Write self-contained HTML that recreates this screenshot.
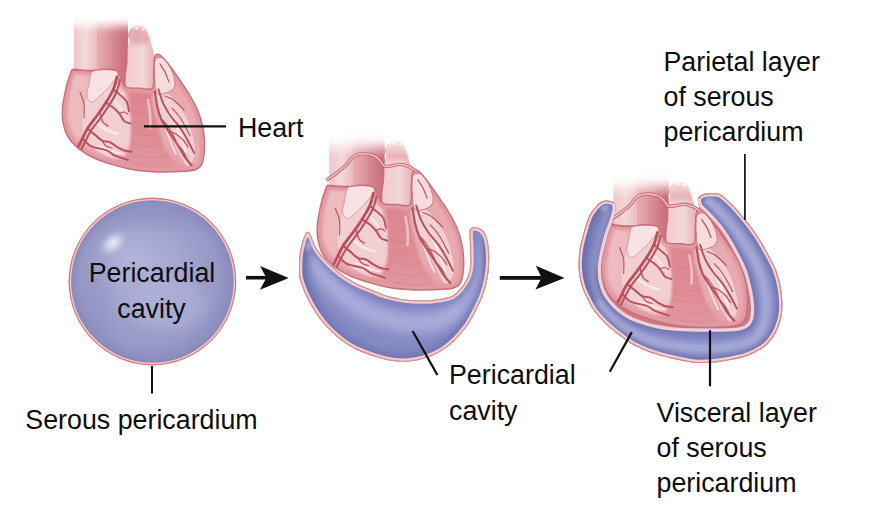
<!DOCTYPE html>
<html><head><meta charset="utf-8">
<style>
html,body{margin:0;padding:0;background:#fff;}
body{width:872px;height:510px;overflow:hidden;}
svg{display:block;}
text{font-family:"Liberation Sans",sans-serif;font-size:26.8px;fill:#0e0e0e;}
</style></head><body>
<svg width="872" height="510" viewBox="0 0 872 510">
<defs>
  <linearGradient id="fadeMaskG" x1="0" y1="12" x2="0" y2="40" gradientUnits="userSpaceOnUse">
    <stop offset="0" stop-color="#000"/>
    <stop offset="0.3" stop-color="#333"/>
    <stop offset="0.6" stop-color="#aaa"/>
    <stop offset="1" stop-color="#fff"/>
  </linearGradient>
  <filter id="mblur" x="-50%" y="-50%" width="200%" height="200%"><feGaussianBlur stdDeviation="5"/></filter>
  <mask id="fadeMask" maskUnits="userSpaceOnUse" x="0" y="-50" width="300" height="300">
    <rect x="40" y="26" width="200" height="200" fill="#fff" filter="url(#mblur)"/>
  </mask>
  <linearGradient id="aortaG" x1="97" y1="0" x2="128" y2="0" gradientUnits="userSpaceOnUse">
    <stop offset="0" stop-color="#e7abb1"/>
    <stop offset="0.3" stop-color="#df9aa2"/>
    <stop offset="0.7" stop-color="#d07b87"/>
    <stop offset="1" stop-color="#c86c79"/>
  </linearGradient>
  <linearGradient id="svcG" x1="74" y1="0" x2="98" y2="0" gradientUnits="userSpaceOnUse">
    <stop offset="0" stop-color="#efc7ca"/>
    <stop offset="0.5" stop-color="#f4d8d9"/>
    <stop offset="1" stop-color="#e9b8bd"/>
  </linearGradient>
  <linearGradient id="ptG" x1="127" y1="0" x2="153" y2="0" gradientUnits="userSpaceOnUse">
    <stop offset="0" stop-color="#f1ccce"/>
    <stop offset="0.6" stop-color="#f4d7d8"/>
    <stop offset="1" stop-color="#e9b6ba"/>
  </linearGradient>
  <linearGradient id="bandG" x1="0" y1="88" x2="0" y2="172" gradientUnits="userSpaceOnUse">
    <stop offset="0" stop-color="#dd8690"/>
    <stop offset="0.6" stop-color="#df8c95"/>
    <stop offset="1" stop-color="#e1959d"/>
  </linearGradient>
  
  <clipPath id="bodyClip"><path d="M72.5,69.5 C74.5,68.7 78.6,70.0 82.0,70.2 C85.4,70.4 89.3,70.7 93.0,70.5 C96.7,70.3 100.2,69.2 104.0,69.2 C107.8,69.2 113.2,69.0 116.0,70.5 C118.8,72.0 119.3,75.2 121.0,78.0 C122.7,80.8 122.8,85.3 126.0,87.0 C129.2,88.7 135.6,88.0 140.0,88.2 C144.4,88.4 150.2,91.0 152.5,88.0 C154.8,85.0 153.4,75.3 153.8,70.0 C154.2,64.7 154.0,58.5 155.0,56.0 C156.0,53.5 157.8,53.8 160.0,55.0 C162.2,56.2 165.2,60.0 168.0,63.5 C170.8,67.0 173.4,70.8 177.0,76.0 C180.6,81.2 186.1,89.2 189.6,95.0 C193.1,100.8 195.8,105.5 198.0,111.0 C200.2,116.5 201.9,122.8 203.0,128.0 C204.1,133.2 204.3,137.5 204.5,142.0 C204.7,146.5 204.5,151.2 204.0,155.0 C203.5,158.8 202.8,162.6 201.5,165.0 C200.2,167.4 198.8,168.4 196.0,169.5 C193.2,170.6 191.0,170.9 185.0,171.3 C179.0,171.7 168.2,172.2 160.0,172.0 C151.8,171.8 143.0,171.3 136.0,170.3 C129.0,169.3 124.8,168.2 118.0,166.2 C111.2,164.2 101.5,161.4 95.0,158.5 C88.5,155.6 83.5,152.6 79.0,149.0 C74.5,145.4 70.7,141.5 68.0,137.0 C65.3,132.5 63.9,126.8 63.0,122.0 C62.1,117.2 62.2,112.5 62.5,108.0 C62.8,103.5 63.8,99.0 64.5,95.0 C65.2,91.0 66.1,87.3 67.0,84.0 C67.9,80.7 69.1,77.4 70.0,75.0 C70.9,72.6 70.5,70.3 72.5,69.5 Z"/></clipPath>
  <g id="heart">
    <g mask="url(#fadeMask)">
      <path d="M74,8 L98,8 L98,76 L74,76 Z" fill="url(#svcG)"/>
      <path d="M97,8 L128,8 L128,95 L97,95 Z" fill="url(#aortaG)"/>
    </g>
    <path d="M127.6,60.0 C127.7,52.5 127.8,49.3 128.0,45.0 C128.2,40.7 128.3,36.7 129.0,34.0 C129.7,31.3 130.7,30.2 132.0,29.0 C133.3,27.8 135.3,26.9 137.0,26.6 C138.7,26.3 140.6,26.5 142.0,27.0 C143.4,27.5 144.4,28.0 145.5,29.5 C146.6,31.0 147.5,33.4 148.5,36.0 C149.5,38.6 150.6,41.8 151.5,45.0 C152.4,48.2 153.6,50.5 154.0,55.0 C154.4,59.5 154.1,66.2 154.0,72.0 C153.9,77.8 158.0,87.0 153.6,90.0 C149.2,93.0 131.9,95.0 127.6,90.0 C123.3,85.0 127.5,67.5 127.6,60.0 Z" fill="url(#ptG)"/>
    <path d="M129.0,34.0 C129.4,31.8 130.7,30.2 132.0,29.0 C133.3,27.8 135.3,26.9 137.0,26.6 C138.7,26.3 140.6,26.5 142.0,27.0 C143.4,27.5 144.4,28.0 145.5,29.5 C146.6,31.0 147.8,33.9 148.5,36.0 C149.2,38.1 151.1,40.7 150.0,42.0 C148.9,43.3 144.7,43.7 142.0,44.0 C139.3,44.3 136.1,44.3 134.0,44.0 C131.9,43.7 130.3,43.7 129.5,42.0 C128.7,40.3 128.6,36.2 129.0,34.0 Z" fill="#d98f98" opacity="0.55" filter="url(#blur2)"/>
    <ellipse cx="137" cy="28.3" rx="1.8" ry="1.2" fill="#fff" opacity="0.9"/>
    <ellipse cx="143" cy="29.6" rx="1.5" ry="1.1" fill="#fff" opacity="0.8"/>
    <ellipse cx="128.6" cy="41" rx="0.8" ry="3" fill="#fff" opacity="0.75"/>
    <path d="M132,29 C130,31 129,34 128.6,37" fill="none" stroke="#c9707c" stroke-width="0.8"/>
    <path d="M72.5,69.5 C74.5,68.7 78.6,70.0 82.0,70.2 C85.4,70.4 89.3,70.7 93.0,70.5 C96.7,70.3 100.2,69.2 104.0,69.2 C107.8,69.2 113.2,69.0 116.0,70.5 C118.8,72.0 119.3,75.2 121.0,78.0 C122.7,80.8 122.8,85.3 126.0,87.0 C129.2,88.7 135.6,88.0 140.0,88.2 C144.4,88.4 150.2,91.0 152.5,88.0 C154.8,85.0 153.4,75.3 153.8,70.0 C154.2,64.7 154.0,58.5 155.0,56.0 C156.0,53.5 157.8,53.8 160.0,55.0 C162.2,56.2 165.2,60.0 168.0,63.5 C170.8,67.0 173.4,70.8 177.0,76.0 C180.6,81.2 186.1,89.2 189.6,95.0 C193.1,100.8 195.8,105.5 198.0,111.0 C200.2,116.5 201.9,122.8 203.0,128.0 C204.1,133.2 204.3,137.5 204.5,142.0 C204.7,146.5 204.5,151.2 204.0,155.0 C203.5,158.8 202.8,162.6 201.5,165.0 C200.2,167.4 198.8,168.4 196.0,169.5 C193.2,170.6 191.0,170.9 185.0,171.3 C179.0,171.7 168.2,172.2 160.0,172.0 C151.8,171.8 143.0,171.3 136.0,170.3 C129.0,169.3 124.8,168.2 118.0,166.2 C111.2,164.2 101.5,161.4 95.0,158.5 C88.5,155.6 83.5,152.6 79.0,149.0 C74.5,145.4 70.7,141.5 68.0,137.0 C65.3,132.5 63.9,126.8 63.0,122.0 C62.1,117.2 62.2,112.5 62.5,108.0 C62.8,103.5 63.8,99.0 64.5,95.0 C65.2,91.0 66.1,87.3 67.0,84.0 C67.9,80.7 69.1,77.4 70.0,75.0 C70.9,72.6 70.5,70.3 72.5,69.5 Z" fill="#e8aab0"/>
    <g clip-path="url(#bodyClip)">
      <path d="M72.0,74.0 C75.0,71.8 85.0,71.2 88.0,73.0 C91.0,74.8 90.3,80.5 90.0,85.0 C89.7,89.5 87.2,95.0 86.0,100.0 C84.8,105.0 83.7,110.3 83.0,115.0 C82.3,119.7 81.7,123.8 82.0,128.0 C82.3,132.2 85.7,138.3 85.0,140.0 C84.3,141.7 80.3,140.0 78.0,138.0 C75.7,136.0 72.7,131.8 71.0,128.0 C69.3,124.2 68.3,119.7 68.0,115.0 C67.7,110.3 68.7,104.8 69.0,100.0 C69.3,95.2 69.5,90.3 70.0,86.0 C70.5,81.7 69.0,76.2 72.0,74.0 Z" fill="#edbcc0" filter="url(#blur2)"/>
      <path d="M93.0,71.0 C95.4,68.6 100.2,69.6 104.0,69.6 C107.8,69.6 113.7,70.1 116.0,71.0 C118.3,71.9 116.8,72.8 118.0,75.0 C119.2,77.2 121.6,80.0 123.0,84.0 C124.4,88.0 125.2,94.2 126.5,99.0 C127.8,103.8 129.6,108.2 130.5,113.0 C131.4,117.8 131.8,122.7 132.0,128.0 C132.2,133.3 132.0,140.2 131.5,145.0 C131.0,149.8 131.2,154.5 129.0,157.0 C126.8,159.5 122.2,160.3 118.0,160.0 C113.8,159.7 108.3,157.2 104.0,155.0 C99.7,152.8 95.2,149.8 92.0,147.0 C88.8,144.2 86.7,141.5 85.0,138.0 C83.3,134.5 82.3,130.3 82.0,126.0 C81.7,121.7 82.3,116.5 83.0,112.0 C83.7,107.5 84.9,103.7 86.0,99.0 C87.1,94.3 88.3,88.7 89.5,84.0 C90.7,79.3 90.6,73.4 93.0,71.0 Z" fill="#f2cfd1"/>
      <path d="M153.0,92.0 C153.5,88.8 158.0,89.3 161.0,90.0 C164.0,90.7 167.8,93.2 171.0,96.0 C174.2,98.8 177.2,102.8 180.0,107.0 C182.8,111.2 185.8,116.0 188.0,121.0 C190.2,126.0 191.8,132.0 193.0,137.0 C194.2,142.0 195.2,146.8 195.0,151.0 C194.8,155.2 193.3,159.5 192.0,162.0 C190.7,164.5 188.8,166.8 187.0,166.0 C185.2,165.2 183.3,161.2 181.0,157.0 C178.7,152.8 175.7,146.3 173.0,141.0 C170.3,135.7 167.5,130.3 165.0,125.0 C162.5,119.7 160.0,114.5 158.0,109.0 C156.0,103.5 152.5,95.2 153.0,92.0 Z" fill="#f2cfd1"/>
      <path d="M146.0,100.0 C146.5,96.0 149.7,94.7 151.0,96.0 C152.3,97.3 153.3,103.7 154.0,108.0 C154.7,112.3 155.3,118.3 155.0,122.0 C154.7,125.7 153.2,130.3 152.0,130.0 C150.8,129.7 149.0,125.0 148.0,120.0 C147.0,115.0 145.5,104.0 146.0,100.0 Z" fill="#f1cccf" filter="url(#blur1)"/>
      <path d="M129.0,88.5 C130.8,85.8 137.2,88.9 141.0,89.0 C144.8,89.1 150.1,87.2 152.0,89.0 C153.9,90.8 152.0,95.8 152.5,100.0 C153.0,104.2 153.9,109.0 155.0,114.0 C156.1,119.0 157.5,124.7 159.0,130.0 C160.5,135.3 162.0,141.0 164.0,146.0 C166.0,151.0 168.7,155.8 171.0,160.0 C173.3,164.2 181.5,169.4 178.0,171.5 C174.5,173.6 159.0,172.9 150.0,172.5 C141.0,172.1 128.0,171.4 124.0,169.0 C120.0,166.6 125.0,162.3 126.0,158.0 C127.0,153.7 129.2,148.5 130.0,143.0 C130.8,137.5 131.0,131.3 131.0,125.0 C131.0,118.7 130.3,111.1 130.0,105.0 C129.7,98.9 127.2,91.2 129.0,88.5 Z" fill="url(#bandG)" filter="url(#blur1)"/>
      <path d="M100.0,158.0 C101.7,156.3 114.2,161.3 120.0,160.0 C125.8,158.7 130.0,151.3 135.0,150.0 C140.0,148.7 144.2,150.3 150.0,152.0 C155.8,153.7 163.3,157.3 170.0,160.0 C176.7,162.7 185.7,166.0 190.0,168.0 C194.3,170.0 202.7,170.8 196.0,172.0 C189.3,173.2 164.3,175.3 150.0,175.0 C135.7,174.7 118.3,172.8 110.0,170.0 C101.7,167.2 98.3,159.7 100.0,158.0 Z" fill="#e3989f" filter="url(#blur2)" opacity="0.8"/>
      <ellipse cx="146" cy="160" rx="30" ry="11" fill="#e0939b" filter="url(#blur4)" opacity="0.8"/>
      <path d="M72.5,69.5 C74.5,68.7 78.6,70.0 82.0,70.2 C85.4,70.4 89.3,70.7 93.0,70.5 C96.7,70.3 100.2,69.2 104.0,69.2 C107.8,69.2 113.2,69.0 116.0,70.5 C118.8,72.0 119.3,75.2 121.0,78.0 C122.7,80.8 122.8,85.3 126.0,87.0 C129.2,88.7 135.6,88.0 140.0,88.2 C144.4,88.4 150.2,91.0 152.5,88.0 C154.8,85.0 153.4,75.3 153.8,70.0 C154.2,64.7 154.0,58.5 155.0,56.0 C156.0,53.5 157.8,53.8 160.0,55.0 C162.2,56.2 165.2,60.0 168.0,63.5 C170.8,67.0 173.4,70.8 177.0,76.0 C180.6,81.2 186.1,89.2 189.6,95.0 C193.1,100.8 195.8,105.5 198.0,111.0 C200.2,116.5 201.9,122.8 203.0,128.0 C204.1,133.2 204.3,137.5 204.5,142.0 C204.7,146.5 204.5,151.2 204.0,155.0 C203.5,158.8 202.8,162.6 201.5,165.0 C200.2,167.4 198.8,168.4 196.0,169.5 C193.2,170.6 191.0,170.9 185.0,171.3 C179.0,171.7 168.2,172.2 160.0,172.0 C151.8,171.8 143.0,171.3 136.0,170.3 C129.0,169.3 124.8,168.2 118.0,166.2 C111.2,164.2 101.5,161.4 95.0,158.5 C88.5,155.6 83.5,152.6 79.0,149.0 C74.5,145.4 70.7,141.5 68.0,137.0 C65.3,132.5 63.9,126.8 63.0,122.0 C62.1,117.2 62.2,112.5 62.5,108.0 C62.8,103.5 63.8,99.0 64.5,95.0 C65.2,91.0 66.1,87.3 67.0,84.0 C67.9,80.7 69.1,77.4 70.0,75.0 C70.9,72.6 70.5,70.3 72.5,69.5 Z" fill="none" stroke="#e19aa2" stroke-width="9" filter="url(#blur1)"/>
      <g fill="none" stroke="#d27d88" stroke-width="0.8" opacity="0.55">
        <path d="M131,100 Q142,106 153,101"/>
        <path d="M131,110 Q143,117 155,111"/>
        <path d="M131,121 Q144,128 157,122"/>
        <path d="M132,132 Q146,139 160,133"/>
        <path d="M132,143 Q148,150 164,144"/>
        <path d="M134,154 Q151,161 168,155"/>
        <path d="M136,164 Q154,170 172,165"/>
      </g>
      <g fill="none" stroke="#fbeeee" stroke-linecap="round" opacity="0.8">
        <path d="M96,122 C102,128 110,132 118,134" stroke-width="2.5"/>
        <path d="M100,146 C108,150 116,153 124,154" stroke-width="2"/>
        <path d="M108,96 C114,100 118,104 122,110" stroke-width="2"/>
        <path d="M170,112 C176,124 182,138 186,152" stroke-width="2.5"/>
        <path d="M162,118 C166,130 170,142 176,154" stroke-width="1.8"/>
        <path d="M148,100 C150,110 151,120 150,128" stroke-width="2.5" opacity="0.7"/>
      </g>
      <path d="M92.5,71.0 C95.0,68.6 100.1,69.5 104.0,69.5 C107.9,69.5 113.7,70.0 116.0,70.8 C118.3,71.6 118.0,73.0 117.8,74.5 C117.5,76.0 116.1,77.8 114.5,80.0 C112.9,82.2 110.4,85.3 108.0,88.0 C105.6,90.7 102.7,93.7 100.0,96.0 C97.3,98.3 94.2,102.0 92.0,102.0 C89.8,102.0 87.5,99.0 87.0,96.0 C86.5,93.0 88.1,88.2 89.0,84.0 C89.9,79.8 90.0,73.4 92.5,71.0 Z" fill="#f8e2e3" stroke="#d38f98" stroke-width="0.8"/>
      <path d="M154.6,62.0 C155.3,58.2 157.3,57.9 159.0,57.5 C160.7,57.1 163.1,57.8 165.0,59.5 C166.9,61.2 168.9,64.8 170.5,68.0 C172.1,71.2 173.9,75.7 174.5,79.0 C175.1,82.3 175.4,85.7 174.0,88.0 C172.6,90.3 168.8,92.2 166.0,93.0 C163.2,93.8 158.9,95.2 157.0,93.0 C155.1,90.8 155.2,85.2 154.8,80.0 C154.4,74.8 153.9,65.8 154.6,62.0 Z" fill="#f6dcdd" stroke="#cc808b" stroke-width="1"/>
      <g fill="none" stroke="#b9505f" stroke-linecap="round" stroke-linejoin="round">
      <path d="M117.0,77.0 C116.4,79.0 115.3,84.8 113.5,89.0 C111.7,93.2 108.7,98.2 106.0,102.5 C103.3,106.8 100.6,110.7 97.5,115.0 C94.4,119.3 90.2,124.2 87.5,128.5 C84.8,132.8 83.2,137.2 81.5,140.5 C79.8,143.8 78.2,146.8 77.5,148.0" stroke-width="2.8"/>
      <path d="M120.0,80.0 C119.4,82.0 118.3,87.8 116.5,92.0 C114.7,96.2 111.7,101.2 109.0,105.5 C106.3,109.8 103.6,113.7 100.5,118.0 C97.4,122.3 93.2,127.3 90.5,131.5 C87.8,135.7 86.2,139.8 84.5,143.0 C82.8,146.2 81.2,149.7 80.5,151.0" stroke-width="2.0"/>
      <path d="M106.0,102.7 C107.2,103.5 111.0,105.8 113.2,107.6 C115.4,109.4 117.5,111.5 119.3,113.7 C121.1,116.0 122.4,119.5 124.2,121.1 C126.0,122.7 129.3,123.1 130.3,123.5" stroke-width="1.9"/>
      <path d="M113.2,89.2 C114.4,90.2 118.3,93.4 120.5,95.4 C122.7,97.5 125.2,98.8 126.6,101.5 C128.0,104.2 128.6,109.7 129.0,111.3" stroke-width="1.8"/>
      <path d="M119.3,113.7 C120.1,113.4 122.5,112.0 124.0,112.0 C125.5,112.0 127.3,113.7 128.0,114.0" stroke-width="1.2"/>
      <path d="M100.0,113.0 C100.5,114.5 101.7,119.8 103.0,122.0 C104.3,124.2 107.2,125.3 108.0,126.0" stroke-width="1.4"/>
      <path d="M87.4,128.5 C88.6,129.5 92.3,132.6 94.8,134.6 C97.2,136.6 99.6,139.5 102.1,140.7 C104.5,141.9 107.0,140.9 109.5,141.9 C112.0,142.9 114.3,145.4 116.8,146.8 C119.2,148.2 121.8,149.7 124.2,150.5 C126.7,151.3 130.3,151.5 131.5,151.7" stroke-width="2.0"/>
      <path d="M82.5,138.3 C83.7,139.5 87.5,144.0 89.9,145.6 C92.4,147.2 94.4,147.3 97.2,148.1 C100.0,148.9 104.1,149.3 107.0,150.5 C109.9,151.7 112.0,154.2 114.4,155.4 C116.9,156.6 119.4,157.1 121.7,157.9 C124.0,158.7 127.0,159.7 128.0,160.0" stroke-width="1.8"/>
      <path d="M102.1,140.7 C102.8,141.6 104.3,144.8 106.0,146.0 C107.7,147.2 111.0,147.7 112.0,148.0" stroke-width="1.2"/>
      <path d="M154.8,91.7 C155.2,94.2 156.3,101.9 157.3,106.4 C158.3,110.9 159.2,114.5 161.0,118.6 C162.8,122.7 165.5,126.4 168.3,130.9 C171.2,135.4 175.2,141.1 178.1,145.6 C181.0,150.1 183.2,154.6 185.5,157.9 C187.8,161.2 190.6,164.0 191.6,165.2" stroke-width="2.2"/>
      <path d="M158.5,89.2 C159.3,91.7 161.3,99.4 163.4,103.9 C165.5,108.4 167.9,112.1 170.8,116.2 C173.7,120.3 177.8,124.4 180.6,128.5 C183.4,132.6 185.7,136.6 187.9,140.7 C190.2,144.8 193.1,150.9 194.1,153.0" stroke-width="1.9"/>
      <path d="M168.3,130.9 C169.6,131.4 173.6,132.5 176.0,134.0 C178.4,135.5 181.0,137.8 183.0,140.0 C185.0,142.2 187.2,145.8 188.0,147.0" stroke-width="1.2"/>
      <path d="M178.1,145.6 C178.9,146.5 181.5,148.8 183.0,151.0 C184.5,153.2 186.3,157.7 187.0,159.0" stroke-width="1.2"/>
      <path d="M161.0,118.6 C162.0,119.7 165.2,122.6 167.0,125.0 C168.8,127.4 170.5,130.3 172.0,133.0 C173.5,135.7 175.3,139.7 176.0,141.0" stroke-width="1.1"/>
      <path d="M172.0,108.0 C173.2,109.3 176.8,113.0 179.0,116.0 C181.2,119.0 183.2,122.7 185.0,126.0 C186.8,129.3 189.2,134.3 190.0,136.0" stroke-width="1.1"/>
      <path d="M165.0,96.0 C166.2,96.5 169.8,97.7 172.0,99.0 C174.2,100.3 176.0,102.2 178.0,104.0 C180.0,105.8 183.0,109.0 184.0,110.0" stroke-width="1.2"/>
      <path d="M160.0,64.0 C160.8,65.3 163.5,69.0 165.0,72.0 C166.5,75.0 168.3,80.3 169.0,82.0" stroke-width="1.2"/>
      <path d="M80.0,92.0 C80.7,94.0 83.3,99.7 84.0,104.0 C84.7,108.3 84.0,115.7 84.0,118.0" stroke-width="1.1"/>
      </g>
      <path d="M72,70 L93,70.8" stroke="#c56f7b" stroke-width="1.2" fill="none"/>
      <path d="M127.5,88.5 L153,88.5" stroke="#d89aa2" stroke-width="1" fill="none"/>
    </g>
    <path d="M72.5,69.5 C74.5,68.7 78.6,70.0 82.0,70.2 C85.4,70.4 89.3,70.7 93.0,70.5 C96.7,70.3 100.2,69.2 104.0,69.2 C107.8,69.2 113.2,69.0 116.0,70.5 C118.8,72.0 119.3,75.2 121.0,78.0 C122.7,80.8 122.8,85.3 126.0,87.0 C129.2,88.7 135.6,88.0 140.0,88.2 C144.4,88.4 150.2,91.0 152.5,88.0 C154.8,85.0 153.4,75.3 153.8,70.0 C154.2,64.7 154.0,58.5 155.0,56.0 C156.0,53.5 157.8,53.8 160.0,55.0 C162.2,56.2 165.2,60.0 168.0,63.5 C170.8,67.0 173.4,70.8 177.0,76.0 C180.6,81.2 186.1,89.2 189.6,95.0 C193.1,100.8 195.8,105.5 198.0,111.0 C200.2,116.5 201.9,122.8 203.0,128.0 C204.1,133.2 204.3,137.5 204.5,142.0 C204.7,146.5 204.5,151.2 204.0,155.0 C203.5,158.8 202.8,162.6 201.5,165.0 C200.2,167.4 198.8,168.4 196.0,169.5 C193.2,170.6 191.0,170.9 185.0,171.3 C179.0,171.7 168.2,172.2 160.0,172.0 C151.8,171.8 143.0,171.3 136.0,170.3 C129.0,169.3 124.8,168.2 118.0,166.2 C111.2,164.2 101.5,161.4 95.0,158.5 C88.5,155.6 83.5,152.6 79.0,149.0 C74.5,145.4 70.7,141.5 68.0,137.0 C65.3,132.5 63.9,126.8 63.0,122.0 C62.1,117.2 62.2,112.5 62.5,108.0 C62.8,103.5 63.8,99.0 64.5,95.0 C65.2,91.0 66.1,87.3 67.0,84.0 C67.9,80.7 69.1,77.4 70.0,75.0 C70.9,72.6 70.5,70.3 72.5,69.5 Z" fill="none" stroke="#c96e7b" stroke-width="1.4"/>
  </g>
  <linearGradient id="veilG" x1="0" y1="10" x2="0" y2="42" gradientUnits="userSpaceOnUse">
    <stop offset="0" stop-color="#fff" stop-opacity="1"/>
    <stop offset="0.5" stop-color="#fff" stop-opacity="0.7"/>
    <stop offset="1" stop-color="#fff" stop-opacity="0"/>
  </linearGradient>
  <g id="refl">
    <rect x="70" y="0" width="90" height="42" fill="url(#veilG)"/>
    <path d="M71.2,64.5 C72.8,63.4 77.6,60.1 80.8,57.6 C84.0,55.1 87.9,51.9 90.4,49.4 C92.9,46.9 94.2,44.2 96.0,42.5 C97.8,40.8 99.1,39.9 101.4,39.2 C103.7,38.5 106.8,38.3 109.6,38.5 C112.3,38.7 115.6,39.4 117.9,40.5 C120.2,41.6 121.8,43.7 123.4,45.4 C125.0,47.1 125.7,49.7 127.5,50.5 C129.3,51.3 131.8,50.5 134.3,50.2 C136.8,49.9 139.8,48.7 142.6,48.8 C145.3,48.9 148.3,49.8 150.8,50.8 C153.3,51.8 156.5,54.3 157.7,55.0" fill="none" stroke="#c66c79" stroke-width="3.4"/>
    <path d="M71.2,64.5 C72.8,63.4 77.6,60.1 80.8,57.6 C84.0,55.1 87.9,51.9 90.4,49.4 C92.9,46.9 94.2,44.2 96.0,42.5 C97.8,40.8 99.1,39.9 101.4,39.2 C103.7,38.5 106.8,38.3 109.6,38.5 C112.3,38.7 115.6,39.4 117.9,40.5 C120.2,41.6 121.8,43.7 123.4,45.4 C125.0,47.1 125.7,49.7 127.5,50.5 C129.3,51.3 131.8,50.5 134.3,50.2 C136.8,49.9 139.8,48.7 142.6,48.8 C145.3,48.9 148.3,49.8 150.8,50.8 C153.3,51.8 156.5,54.3 157.7,55.0" fill="none" stroke="#f2cdd0" stroke-width="1.3"/>
  </g>

  <radialGradient id="sphG" cx="152.4" cy="281.5" r="80.5" fx="130" fy="258" gradientUnits="userSpaceOnUse">
    <stop offset="0" stop-color="#b2b4da"/>
    <stop offset="0.5" stop-color="#a4a6cf"/>
    <stop offset="0.85" stop-color="#9799c6"/>
    <stop offset="1" stop-color="#8a8cbb"/>
  </radialGradient>
  <clipPath id="sphClip"><circle cx="152.4" cy="281.5" r="80.7"/></clipPath>
  <radialGradient id="hiG" cx="0.5" cy="0.5" r="0.5">
    <stop offset="0" stop-color="#f6f7fc" stop-opacity="1"/>
    <stop offset="0.45" stop-color="#e2e4f3" stop-opacity="0.7"/>
    <stop offset="1" stop-color="#c8cbe8" stop-opacity="0"/>
  </radialGradient>
  <clipPath id="cup2Clip"><path d="M307.7,231.8 C308.5,232.0 309.2,232.5 310.5,235.0 C311.8,237.5 313.4,242.9 315.5,246.7 C317.6,250.5 320.2,254.0 323.4,257.6 C326.5,261.2 330.5,265.2 334.4,268.6 C338.3,272.0 342.7,275.2 346.9,278.0 C351.1,280.8 355.3,283.1 359.5,285.1 C363.7,287.1 367.3,288.2 372.0,290.0 C376.7,291.8 382.2,294.4 387.7,296.0 C393.2,297.6 398.9,298.8 405.0,299.6 C411.1,300.4 418.6,300.7 424.4,300.6 C430.2,300.5 435.4,299.8 440.0,299.0 C444.6,298.2 448.7,297.7 452.0,296.0 C455.3,294.3 457.5,291.9 460.0,289.0 C462.5,286.1 465.3,282.2 467.0,278.5 C468.7,274.8 469.6,271.5 470.2,267.0 C470.8,262.5 470.5,256.9 470.4,251.4 C470.3,245.9 469.6,237.8 469.6,234.0 C469.6,230.2 469.6,229.7 470.5,228.6 C471.4,227.5 473.2,227.0 475.0,227.2 C476.8,227.3 479.6,227.9 481.5,229.5 C483.4,231.1 485.2,233.2 486.5,237.0 C487.8,240.8 488.6,246.5 489.0,252.0 C489.4,257.5 489.2,264.2 488.6,270.0 C488.0,275.8 487.0,281.5 485.5,287.0 C484.0,292.5 482.8,296.2 479.5,303.0 C476.2,309.8 471.7,319.9 466.0,327.5 C460.3,335.1 452.4,343.3 445.1,348.6 C437.8,353.9 429.8,356.9 422.1,359.1 C414.5,361.3 406.8,362.0 399.2,361.6 C391.6,361.2 384.7,359.7 376.3,357.0 C367.9,354.3 357.2,350.6 348.8,345.4 C340.4,340.2 332.3,333.0 325.8,325.9 C319.3,318.8 314.0,310.4 309.8,302.9 C305.6,295.4 302.2,287.0 300.4,281.0 C298.6,275.0 299.0,271.9 299.0,267.0 C299.0,262.1 299.5,255.9 300.2,251.4 C300.9,246.9 302.1,242.9 303.0,240.0 C303.9,237.1 304.7,235.4 305.5,234.0 C306.3,232.6 306.9,231.6 307.7,231.8 Z"/></clipPath>
  <clipPath id="cup3Clip"><path d="M615.8,207.0 C615.9,208.6 615.6,210.3 615.0,213.0 C614.4,215.7 613.2,219.5 612.0,223.0 C610.8,226.5 609.2,230.0 608.0,234.0 C606.8,238.0 605.5,242.8 604.5,247.0 C603.5,251.2 602.6,255.2 602.0,259.0 C601.4,262.8 601.0,266.3 601.0,270.0 C601.0,273.7 601.2,277.3 602.0,281.0 C602.8,284.7 603.9,288.7 605.5,292.0 C607.1,295.3 609.2,298.2 611.5,301.0 C613.8,303.8 616.4,306.5 619.5,309.0 C622.6,311.5 626.2,314.0 630.0,316.0 C633.8,318.0 637.7,319.5 642.0,321.0 C646.3,322.5 651.0,323.8 656.0,324.8 C661.0,325.8 666.3,326.6 672.0,327.2 C677.7,327.8 683.7,328.0 690.0,328.2 C696.3,328.4 703.7,328.4 710.0,328.4 C716.3,328.4 723.2,328.4 728.0,328.2 C732.8,328.0 736.0,327.8 739.0,327.2 C742.0,326.6 744.2,325.9 746.0,324.5 C747.8,323.1 749.2,321.2 750.0,318.5 C750.8,315.8 751.0,311.6 751.0,308.0 C751.0,304.4 750.6,300.8 750.0,297.0 C749.4,293.2 748.6,289.3 747.5,285.0 C746.4,280.7 745.2,275.5 743.5,271.0 C741.8,266.5 739.7,262.3 737.5,258.0 C735.3,253.7 733.0,249.3 730.5,245.0 C728.0,240.7 725.2,235.9 722.5,232.0 C719.8,228.1 716.8,224.8 714.0,221.5 C711.2,218.2 707.9,215.0 705.5,212.5 C703.1,210.0 700.8,208.8 699.5,206.5 C698.2,204.2 697.6,200.4 698.0,198.5 C698.4,196.6 700.3,195.7 702.0,194.8 C703.7,193.9 705.8,193.6 708.0,193.3 C710.2,193.1 712.8,193.1 715.0,193.3 C717.2,193.6 718.0,192.8 721.0,194.8 C724.0,196.8 729.1,201.4 733.1,205.5 C737.1,209.6 741.6,215.2 744.9,219.2 C748.2,223.2 750.5,226.0 753.0,229.5 C755.5,233.0 757.4,235.8 760.0,240.0 C762.6,244.2 765.8,250.0 768.5,255.0 C771.2,260.0 774.0,264.8 776.0,270.0 C778.0,275.2 779.5,280.7 780.5,286.0 C781.5,291.3 782.1,297.0 782.3,302.0 C782.5,307.0 782.3,311.5 781.5,316.0 C780.7,320.5 779.2,325.0 777.5,329.0 C775.8,333.0 773.5,336.8 771.0,340.0 C768.5,343.2 766.7,345.4 762.7,348.0 C758.7,350.6 752.5,353.9 747.0,355.9 C741.5,357.9 735.8,358.9 730.0,360.0 C724.2,361.1 717.8,362.1 712.0,362.6 C706.2,363.1 700.7,363.3 695.0,362.8 C689.3,362.3 683.7,360.9 677.9,359.7 C672.1,358.5 665.4,357.0 660.0,355.5 C654.6,354.0 650.3,352.6 645.5,350.6 C640.7,348.6 635.3,346.0 631.0,343.5 C626.7,341.0 623.3,338.2 619.6,335.5 C615.9,332.8 612.2,329.9 609.0,327.0 C605.8,324.1 603.0,321.3 600.2,318.2 C597.5,315.1 594.6,311.7 592.5,308.5 C590.4,305.3 589.0,302.2 587.3,298.8 C585.6,295.4 583.8,291.6 582.5,288.0 C581.2,284.4 580.4,281.1 579.7,277.3 C579.1,273.5 578.6,269.4 578.6,265.0 C578.6,260.6 579.0,255.0 579.5,251.0 C580.0,247.0 580.7,244.5 581.5,241.0 C582.3,237.5 583.3,234.0 584.5,230.0 C585.7,226.0 587.4,220.3 588.8,217.0 C590.2,213.7 591.5,212.1 593.0,210.0 C594.5,207.9 596.1,206.1 597.5,204.7 C598.9,203.3 600.1,202.5 601.5,201.8 C602.9,201.1 604.4,200.7 606.0,200.6 C607.6,200.5 609.6,200.8 611.0,201.2 C612.4,201.6 613.7,202.2 614.5,203.2 C615.3,204.2 615.7,205.4 615.8,207.0 Z"/></clipPath>
  <filter id="blur3" x="-20%" y="-20%" width="140%" height="140%"><feGaussianBlur stdDeviation="3"/></filter>
  <filter id="blur4" x="-20%" y="-20%" width="140%" height="140%"><feGaussianBlur stdDeviation="4"/></filter>
  <filter id="blur6" x="-20%" y="-20%" width="140%" height="140%"><feGaussianBlur stdDeviation="6"/></filter>
  <filter id="blur1" x="-20%" y="-20%" width="140%" height="140%"><feGaussianBlur stdDeviation="1"/></filter>
  <filter id="blur2" x="-20%" y="-20%" width="140%" height="140%"><feGaussianBlur stdDeviation="2"/></filter>
</defs>

<!-- Heart 1 -->
<use href="#heart"/>
<line x1="144" y1="126.3" x2="226" y2="126.3" stroke="#111" stroke-width="2.2"/>
<text x="237.9" y="136.7">Heart</text>

<!-- Sphere -->
<circle cx="152.4" cy="281.5" r="83.9" fill="#cf7d85"/>
<circle cx="152.4" cy="281.5" r="82.6" fill="#f3caca"/>
<circle cx="152.4" cy="281.5" r="80.8" fill="url(#sphG)" stroke="#8083b6" stroke-width="0.8"/>
<g clip-path="url(#sphClip)">
  <ellipse cx="168" cy="305" rx="38" ry="26" fill="#b0b2d9" filter="url(#blur6)" opacity="0.6"/>
  <ellipse cx="150" cy="212" rx="55" ry="14" fill="#8c8ebf" filter="url(#blur6)" opacity="0.45"/>
  <ellipse cx="98" cy="300" rx="14" ry="40" fill="#8c8ebf" filter="url(#blur6)" opacity="0.35"/>
</g>
<ellipse cx="113" cy="243" rx="16" ry="10" transform="rotate(-38 113 243)" fill="url(#hiG)" filter="url(#blur2)"/>
<text x="152" y="282.2" text-anchor="middle">Pericardial</text>
<text x="151.5" y="317.7" text-anchor="middle">cavity</text>
<line x1="152" y1="366" x2="152" y2="393.5" stroke="#111" stroke-width="2"/>
<text x="25.3" y="428.8">Serous pericardium</text>

<!-- Arrow 1 -->
<rect x="246" y="275.9" width="21" height="3.6" fill="#111"/>
<path d="M260,266 L288.7,278 L260,289.8 L266.4,277.7 Z" fill="#111"/>

<!-- Heart 2 -->
<g transform="translate(257,116) translate(133,70) scale(1.03,1.02) translate(-133,-70)"><use href="#heart"/><use href="#refl"/></g>

<!-- Cup 2 -->
<path d="M307.7,231.8 C308.5,232.0 309.2,232.5 310.5,235.0 C311.8,237.5 313.4,242.9 315.5,246.7 C317.6,250.5 320.2,254.0 323.4,257.6 C326.5,261.2 330.5,265.2 334.4,268.6 C338.3,272.0 342.7,275.2 346.9,278.0 C351.1,280.8 355.3,283.1 359.5,285.1 C363.7,287.1 367.3,288.2 372.0,290.0 C376.7,291.8 382.2,294.4 387.7,296.0 C393.2,297.6 398.9,298.8 405.0,299.6 C411.1,300.4 418.6,300.7 424.4,300.6 C430.2,300.5 435.4,299.8 440.0,299.0 C444.6,298.2 448.7,297.7 452.0,296.0 C455.3,294.3 457.5,291.9 460.0,289.0 C462.5,286.1 465.3,282.2 467.0,278.5 C468.7,274.8 469.6,271.5 470.2,267.0 C470.8,262.5 470.5,256.9 470.4,251.4 C470.3,245.9 469.6,237.8 469.6,234.0 C469.6,230.2 469.6,229.7 470.5,228.6 C471.4,227.5 473.2,227.0 475.0,227.2 C476.8,227.3 479.6,227.9 481.5,229.5 C483.4,231.1 485.2,233.2 486.5,237.0 C487.8,240.8 488.6,246.5 489.0,252.0 C489.4,257.5 489.2,264.2 488.6,270.0 C488.0,275.8 487.0,281.5 485.5,287.0 C484.0,292.5 482.8,296.2 479.5,303.0 C476.2,309.8 471.7,319.9 466.0,327.5 C460.3,335.1 452.4,343.3 445.1,348.6 C437.8,353.9 429.8,356.9 422.1,359.1 C414.5,361.3 406.8,362.0 399.2,361.6 C391.6,361.2 384.7,359.7 376.3,357.0 C367.9,354.3 357.2,350.6 348.8,345.4 C340.4,340.2 332.3,333.0 325.8,325.9 C319.3,318.8 314.0,310.4 309.8,302.9 C305.6,295.4 302.2,287.0 300.4,281.0 C298.6,275.0 299.0,271.9 299.0,267.0 C299.0,262.1 299.5,255.9 300.2,251.4 C300.9,246.9 302.1,242.9 303.0,240.0 C303.9,237.1 304.7,235.4 305.5,234.0 C306.3,232.6 306.9,231.6 307.7,231.8 Z" fill="#868bc4"/>
<g clip-path="url(#cup2Clip)">
  <path d="M312.0,252.0 C313.7,255.2 317.3,264.3 322.0,271.0 C326.7,277.7 332.8,285.5 340.0,292.0 C347.2,298.5 355.8,305.2 365.0,310.0 C374.2,314.8 385.0,318.8 395.0,321.0 C405.0,323.2 415.8,323.8 425.0,323.0 C434.2,322.2 442.8,319.7 450.0,316.0 C457.2,312.3 463.3,306.8 468.0,301.0 C472.7,295.2 475.8,288.0 478.0,281.0 C480.2,274.0 480.8,265.7 481.0,259.0 C481.2,252.3 479.3,244.0 479.0,241.0" fill="none" stroke="#aaaedc" stroke-width="18" filter="url(#blur6)"/>
  <path d="M486.5,237.0 C486.9,239.5 488.6,246.5 489.0,252.0 C489.4,257.5 489.2,264.2 488.6,270.0 C488.0,275.8 487.0,281.5 485.5,287.0 C484.0,292.5 482.8,296.2 479.5,303.0 C476.2,309.8 471.7,319.9 466.0,327.5 C460.3,335.1 452.4,343.3 445.1,348.6 C437.8,353.9 429.8,356.9 422.1,359.1 C414.5,361.3 406.8,362.0 399.2,361.6 C391.6,361.2 384.7,359.7 376.3,357.0 C367.9,354.3 357.2,350.6 348.8,345.4 C340.4,340.2 332.3,333.0 325.8,325.9 C319.3,318.8 314.0,310.4 309.8,302.9 C305.6,295.4 302.2,287.0 300.4,281.0 C298.6,275.0 299.0,271.9 299.0,267.0 C299.0,262.1 299.5,255.9 300.2,251.4 C300.9,246.9 302.5,241.9 303.0,240.0" fill="none" stroke="#6c71b1" stroke-width="14" filter="url(#blur4)" opacity="0.9"/>
  <path d="M307.7,231.8 C308.2,232.3 309.2,232.5 310.5,235.0 C311.8,237.5 313.4,242.9 315.5,246.7 C317.6,250.5 320.2,254.0 323.4,257.6 C326.5,261.2 330.5,265.2 334.4,268.6 C338.3,272.0 342.7,275.2 346.9,278.0 C351.1,280.8 355.3,283.1 359.5,285.1 C363.7,287.1 367.3,288.2 372.0,290.0 C376.7,291.8 382.2,294.4 387.7,296.0 C393.2,297.6 398.9,298.8 405.0,299.6 C411.1,300.4 418.6,300.7 424.4,300.6 C430.2,300.5 435.4,299.8 440.0,299.0 C444.6,298.2 448.7,297.7 452.0,296.0 C455.3,294.3 457.5,291.9 460.0,289.0 C462.5,286.1 465.3,282.2 467.0,278.5 C468.7,274.8 469.6,271.5 470.2,267.0 C470.8,262.5 470.5,256.9 470.4,251.4 C470.3,245.9 469.7,236.9 469.6,234.0" fill="none" stroke="#777cbb" stroke-width="12" filter="url(#blur3)" opacity="0.8"/>
  <path d="M305,236 C300,252 299,272 303,292 C306,302 310,310 316,318" fill="none" stroke="#62679f" stroke-width="12" filter="url(#blur3)" opacity="0.5"/>
  <path d="M486,236 C489,255 488,275 484,290" fill="none" stroke="#62679f" stroke-width="10" filter="url(#blur3)" opacity="0.45"/>
  <path d="M307.7,231.8 C308.5,232.0 309.2,232.5 310.5,235.0 C311.8,237.5 313.4,242.9 315.5,246.7 C317.6,250.5 320.2,254.0 323.4,257.6 C326.5,261.2 330.5,265.2 334.4,268.6 C338.3,272.0 342.7,275.2 346.9,278.0 C351.1,280.8 355.3,283.1 359.5,285.1 C363.7,287.1 367.3,288.2 372.0,290.0 C376.7,291.8 382.2,294.4 387.7,296.0 C393.2,297.6 398.9,298.8 405.0,299.6 C411.1,300.4 418.6,300.7 424.4,300.6 C430.2,300.5 435.4,299.8 440.0,299.0 C444.6,298.2 448.7,297.7 452.0,296.0 C455.3,294.3 457.5,291.9 460.0,289.0 C462.5,286.1 465.3,282.2 467.0,278.5 C468.7,274.8 469.6,271.5 470.2,267.0 C470.8,262.5 470.5,256.9 470.4,251.4 C470.3,245.9 469.6,237.8 469.6,234.0 C469.6,230.2 469.6,229.7 470.5,228.6 C471.4,227.5 473.2,227.0 475.0,227.2 C476.8,227.3 479.6,227.9 481.5,229.5 C483.4,231.1 485.2,233.2 486.5,237.0 C487.8,240.8 488.6,246.5 489.0,252.0 C489.4,257.5 489.2,264.2 488.6,270.0 C488.0,275.8 487.0,281.5 485.5,287.0 C484.0,292.5 482.8,296.2 479.5,303.0 C476.2,309.8 471.7,319.9 466.0,327.5 C460.3,335.1 452.4,343.3 445.1,348.6 C437.8,353.9 429.8,356.9 422.1,359.1 C414.5,361.3 406.8,362.0 399.2,361.6 C391.6,361.2 384.7,359.7 376.3,357.0 C367.9,354.3 357.2,350.6 348.8,345.4 C340.4,340.2 332.3,333.0 325.8,325.9 C319.3,318.8 314.0,310.4 309.8,302.9 C305.6,295.4 302.2,287.0 300.4,281.0 C298.6,275.0 299.0,271.9 299.0,267.0 C299.0,262.1 299.5,255.9 300.2,251.4 C300.9,246.9 302.1,242.9 303.0,240.0 C303.9,237.1 304.7,235.4 305.5,234.0 C306.3,232.6 306.9,231.6 307.7,231.8 Z" fill="none" stroke="#f4cccc" stroke-width="6.5"/>
  <path d="M307.7,231.8 C308.5,232.0 309.2,232.5 310.5,235.0 C311.8,237.5 313.4,242.9 315.5,246.7 C317.6,250.5 320.2,254.0 323.4,257.6 C326.5,261.2 330.5,265.2 334.4,268.6 C338.3,272.0 342.7,275.2 346.9,278.0 C351.1,280.8 355.3,283.1 359.5,285.1 C363.7,287.1 367.3,288.2 372.0,290.0 C376.7,291.8 382.2,294.4 387.7,296.0 C393.2,297.6 398.9,298.8 405.0,299.6 C411.1,300.4 418.6,300.7 424.4,300.6 C430.2,300.5 435.4,299.8 440.0,299.0 C444.6,298.2 448.7,297.7 452.0,296.0 C455.3,294.3 457.5,291.9 460.0,289.0 C462.5,286.1 465.3,282.2 467.0,278.5 C468.7,274.8 469.6,271.5 470.2,267.0 C470.8,262.5 470.5,256.9 470.4,251.4 C470.3,245.9 469.6,237.8 469.6,234.0 C469.6,230.2 469.6,229.7 470.5,228.6 C471.4,227.5 473.2,227.0 475.0,227.2 C476.8,227.3 479.6,227.9 481.5,229.5 C483.4,231.1 485.2,233.2 486.5,237.0 C487.8,240.8 488.6,246.5 489.0,252.0 C489.4,257.5 489.2,264.2 488.6,270.0 C488.0,275.8 487.0,281.5 485.5,287.0 C484.0,292.5 482.8,296.2 479.5,303.0 C476.2,309.8 471.7,319.9 466.0,327.5 C460.3,335.1 452.4,343.3 445.1,348.6 C437.8,353.9 429.8,356.9 422.1,359.1 C414.5,361.3 406.8,362.0 399.2,361.6 C391.6,361.2 384.7,359.7 376.3,357.0 C367.9,354.3 357.2,350.6 348.8,345.4 C340.4,340.2 332.3,333.0 325.8,325.9 C319.3,318.8 314.0,310.4 309.8,302.9 C305.6,295.4 302.2,287.0 300.4,281.0 C298.6,275.0 299.0,271.9 299.0,267.0 C299.0,262.1 299.5,255.9 300.2,251.4 C300.9,246.9 302.1,242.9 303.0,240.0 C303.9,237.1 304.7,235.4 305.5,234.0 C306.3,232.6 306.9,231.6 307.7,231.8 Z" fill="none" stroke="#d8878d" stroke-width="2"/>
</g>
<ellipse cx="308" cy="246" rx="3" ry="5" fill="#b8bce4" filter="url(#blur2)" opacity="0.8"/>
<line x1="412.6" y1="331" x2="437.4" y2="375" stroke="#111" stroke-width="2.2"/>
<text x="449" y="383.8">Pericardial</text>
<text x="449" y="419.8">cavity</text>

<!-- Arrow 2 -->
<rect x="499.8" y="276" width="42" height="3.8" fill="#111"/>
<path d="M535.9,265.8 L564.5,277.9 L535.4,289.6 L541.6,277.7 Z" fill="#111"/>

<!-- Heart 3 -->
<path d="M615.8,207.0 C615.0,204.8 615.6,210.3 615.0,213.0 C614.4,215.7 613.2,219.5 612.0,223.0 C610.8,226.5 609.2,230.0 608.0,234.0 C606.8,238.0 605.5,242.8 604.5,247.0 C603.5,251.2 602.6,255.2 602.0,259.0 C601.4,262.8 601.0,266.3 601.0,270.0 C601.0,273.7 601.2,277.3 602.0,281.0 C602.8,284.7 603.9,288.7 605.5,292.0 C607.1,295.3 609.2,298.2 611.5,301.0 C613.8,303.8 616.4,306.5 619.5,309.0 C622.6,311.5 626.2,314.0 630.0,316.0 C633.8,318.0 637.7,319.5 642.0,321.0 C646.3,322.5 651.0,323.8 656.0,324.8 C661.0,325.8 666.3,326.6 672.0,327.2 C677.7,327.8 683.7,328.0 690.0,328.2 C696.3,328.4 703.7,328.4 710.0,328.4 C716.3,328.4 723.2,328.4 728.0,328.2 C732.8,328.0 736.0,327.8 739.0,327.2 C742.0,326.6 744.2,325.9 746.0,324.5 C747.8,323.1 749.2,321.2 750.0,318.5 C750.8,315.8 751.0,311.6 751.0,308.0 C751.0,304.4 750.6,300.8 750.0,297.0 C749.4,293.2 748.6,289.3 747.5,285.0 C746.4,280.7 745.2,275.5 743.5,271.0 C741.8,266.5 739.7,262.3 737.5,258.0 C735.3,253.7 733.0,249.3 730.5,245.0 C728.0,240.7 725.2,235.9 722.5,232.0 C719.8,228.1 716.8,224.8 714.0,221.5 C711.2,218.2 707.9,215.0 705.5,212.5 C703.1,210.0 701.2,204.2 699.5,206.5 C697.8,208.8 701.6,222.7 695.0,226.0 C688.4,229.3 672.5,226.5 660.0,226.5 C647.5,226.5 627.4,229.2 620.0,226.0 C612.6,222.8 616.6,209.2 615.8,207.0 Z" fill="#cf7884"/>
<g transform="translate(543,155.5) translate(204.5,0) scale(1.028,1) translate(-204.5,0)"><use href="#heart"/><use href="#refl"/></g>

<!-- Cup 3 -->
<path d="M615.8,207.0 C615.9,208.6 615.6,210.3 615.0,213.0 C614.4,215.7 613.2,219.5 612.0,223.0 C610.8,226.5 609.2,230.0 608.0,234.0 C606.8,238.0 605.5,242.8 604.5,247.0 C603.5,251.2 602.6,255.2 602.0,259.0 C601.4,262.8 601.0,266.3 601.0,270.0 C601.0,273.7 601.2,277.3 602.0,281.0 C602.8,284.7 603.9,288.7 605.5,292.0 C607.1,295.3 609.2,298.2 611.5,301.0 C613.8,303.8 616.4,306.5 619.5,309.0 C622.6,311.5 626.2,314.0 630.0,316.0 C633.8,318.0 637.7,319.5 642.0,321.0 C646.3,322.5 651.0,323.8 656.0,324.8 C661.0,325.8 666.3,326.6 672.0,327.2 C677.7,327.8 683.7,328.0 690.0,328.2 C696.3,328.4 703.7,328.4 710.0,328.4 C716.3,328.4 723.2,328.4 728.0,328.2 C732.8,328.0 736.0,327.8 739.0,327.2 C742.0,326.6 744.2,325.9 746.0,324.5 C747.8,323.1 749.2,321.2 750.0,318.5 C750.8,315.8 751.0,311.6 751.0,308.0 C751.0,304.4 750.6,300.8 750.0,297.0 C749.4,293.2 748.6,289.3 747.5,285.0 C746.4,280.7 745.2,275.5 743.5,271.0 C741.8,266.5 739.7,262.3 737.5,258.0 C735.3,253.7 733.0,249.3 730.5,245.0 C728.0,240.7 725.2,235.9 722.5,232.0 C719.8,228.1 716.8,224.8 714.0,221.5 C711.2,218.2 707.9,215.0 705.5,212.5 C703.1,210.0 700.8,208.8 699.5,206.5 C698.2,204.2 697.6,200.4 698.0,198.5 C698.4,196.6 700.3,195.7 702.0,194.8 C703.7,193.9 705.8,193.6 708.0,193.3 C710.2,193.1 712.8,193.1 715.0,193.3 C717.2,193.6 718.0,192.8 721.0,194.8 C724.0,196.8 729.1,201.4 733.1,205.5 C737.1,209.6 741.6,215.2 744.9,219.2 C748.2,223.2 750.5,226.0 753.0,229.5 C755.5,233.0 757.4,235.8 760.0,240.0 C762.6,244.2 765.8,250.0 768.5,255.0 C771.2,260.0 774.0,264.8 776.0,270.0 C778.0,275.2 779.5,280.7 780.5,286.0 C781.5,291.3 782.1,297.0 782.3,302.0 C782.5,307.0 782.3,311.5 781.5,316.0 C780.7,320.5 779.2,325.0 777.5,329.0 C775.8,333.0 773.5,336.8 771.0,340.0 C768.5,343.2 766.7,345.4 762.7,348.0 C758.7,350.6 752.5,353.9 747.0,355.9 C741.5,357.9 735.8,358.9 730.0,360.0 C724.2,361.1 717.8,362.1 712.0,362.6 C706.2,363.1 700.7,363.3 695.0,362.8 C689.3,362.3 683.7,360.9 677.9,359.7 C672.1,358.5 665.4,357.0 660.0,355.5 C654.6,354.0 650.3,352.6 645.5,350.6 C640.7,348.6 635.3,346.0 631.0,343.5 C626.7,341.0 623.3,338.2 619.6,335.5 C615.9,332.8 612.2,329.9 609.0,327.0 C605.8,324.1 603.0,321.3 600.2,318.2 C597.5,315.1 594.6,311.7 592.5,308.5 C590.4,305.3 589.0,302.2 587.3,298.8 C585.6,295.4 583.8,291.6 582.5,288.0 C581.2,284.4 580.4,281.1 579.7,277.3 C579.1,273.5 578.6,269.4 578.6,265.0 C578.6,260.6 579.0,255.0 579.5,251.0 C580.0,247.0 580.7,244.5 581.5,241.0 C582.3,237.5 583.3,234.0 584.5,230.0 C585.7,226.0 587.4,220.3 588.8,217.0 C590.2,213.7 591.5,212.1 593.0,210.0 C594.5,207.9 596.1,206.1 597.5,204.7 C598.9,203.3 600.1,202.5 601.5,201.8 C602.9,201.1 604.4,200.7 606.0,200.6 C607.6,200.5 609.6,200.8 611.0,201.2 C612.4,201.6 613.7,202.2 614.5,203.2 C615.3,204.2 615.7,205.4 615.8,207.0 Z" fill="#7f84bf"/>
<g clip-path="url(#cup3Clip)">
  <path d="M604.0,208.0 C602.8,210.8 599.0,218.8 597.0,225.0 C595.0,231.2 593.2,238.3 592.0,245.0 C590.8,251.7 590.0,258.3 590.0,265.0 C590.0,271.7 590.3,278.7 592.0,285.0 C593.7,291.3 596.5,297.2 600.0,303.0 C603.5,308.8 607.7,315.0 613.0,320.0 C618.3,325.0 624.2,329.2 632.0,333.0 C639.8,336.8 648.7,340.5 660.0,343.0 C671.3,345.5 687.5,347.5 700.0,348.0 C712.5,348.5 725.7,347.7 735.0,346.0 C744.3,344.3 751.0,342.3 756.0,338.0 C761.0,333.7 763.3,326.3 765.0,320.0 C766.7,313.7 766.7,307.5 766.0,300.0 C765.3,292.5 763.7,283.0 761.0,275.0 C758.3,267.0 754.0,259.0 750.0,252.0 C746.0,245.0 741.7,239.2 737.0,233.0 C732.3,226.8 726.8,220.3 722.0,215.0 C717.2,209.7 710.3,203.3 708.0,201.0" fill="none" stroke="#a6a9d8" stroke-width="11" filter="url(#blur3)"/>
  <path d="M615.8,207.0 C615.9,208.6 615.6,210.3 615.0,213.0 C614.4,215.7 613.2,219.5 612.0,223.0 C610.8,226.5 609.2,230.0 608.0,234.0 C606.8,238.0 605.5,242.8 604.5,247.0 C603.5,251.2 602.6,255.2 602.0,259.0 C601.4,262.8 601.0,266.3 601.0,270.0 C601.0,273.7 601.2,277.3 602.0,281.0 C602.8,284.7 603.9,288.7 605.5,292.0 C607.1,295.3 609.2,298.2 611.5,301.0 C613.8,303.8 616.4,306.5 619.5,309.0 C622.6,311.5 626.2,314.0 630.0,316.0 C633.8,318.0 637.7,319.5 642.0,321.0 C646.3,322.5 651.0,323.8 656.0,324.8 C661.0,325.8 666.3,326.6 672.0,327.2 C677.7,327.8 683.7,328.0 690.0,328.2 C696.3,328.4 703.7,328.4 710.0,328.4 C716.3,328.4 723.2,328.4 728.0,328.2 C732.8,328.0 736.0,327.8 739.0,327.2 C742.0,326.6 744.2,325.9 746.0,324.5 C747.8,323.1 749.2,321.2 750.0,318.5 C750.8,315.8 751.0,311.6 751.0,308.0 C751.0,304.4 750.6,300.8 750.0,297.0 C749.4,293.2 748.6,289.3 747.5,285.0 C746.4,280.7 745.2,275.5 743.5,271.0 C741.8,266.5 739.7,262.3 737.5,258.0 C735.3,253.7 733.0,249.3 730.5,245.0 C728.0,240.7 725.2,235.9 722.5,232.0 C719.8,228.1 716.8,224.8 714.0,221.5 C711.2,218.2 707.9,215.0 705.5,212.5 C703.1,210.0 700.8,208.8 699.5,206.5 C698.2,204.2 697.6,200.4 698.0,198.5 C698.4,196.6 700.3,195.7 702.0,194.8 C703.7,193.9 705.8,193.6 708.0,193.3 C710.2,193.1 712.8,193.1 715.0,193.3 C717.2,193.6 718.0,192.8 721.0,194.8 C724.0,196.8 729.1,201.4 733.1,205.5 C737.1,209.6 741.6,215.2 744.9,219.2 C748.2,223.2 750.5,226.0 753.0,229.5 C755.5,233.0 757.4,235.8 760.0,240.0 C762.6,244.2 765.8,250.0 768.5,255.0 C771.2,260.0 774.0,264.8 776.0,270.0 C778.0,275.2 779.5,280.7 780.5,286.0 C781.5,291.3 782.1,297.0 782.3,302.0 C782.5,307.0 782.3,311.5 781.5,316.0 C780.7,320.5 779.2,325.0 777.5,329.0 C775.8,333.0 773.5,336.8 771.0,340.0 C768.5,343.2 766.7,345.4 762.7,348.0 C758.7,350.6 752.5,353.9 747.0,355.9 C741.5,357.9 735.8,358.9 730.0,360.0 C724.2,361.1 717.8,362.1 712.0,362.6 C706.2,363.1 700.7,363.3 695.0,362.8 C689.3,362.3 683.7,360.9 677.9,359.7 C672.1,358.5 665.4,357.0 660.0,355.5 C654.6,354.0 650.3,352.6 645.5,350.6 C640.7,348.6 635.3,346.0 631.0,343.5 C626.7,341.0 623.3,338.2 619.6,335.5 C615.9,332.8 612.2,329.9 609.0,327.0 C605.8,324.1 603.0,321.3 600.2,318.2 C597.5,315.1 594.6,311.7 592.5,308.5 C590.4,305.3 589.0,302.2 587.3,298.8 C585.6,295.4 583.8,291.6 582.5,288.0 C581.2,284.4 580.4,281.1 579.7,277.3 C579.1,273.5 578.6,269.4 578.6,265.0 C578.6,260.6 579.0,255.0 579.5,251.0 C580.0,247.0 580.7,244.5 581.5,241.0 C582.3,237.5 583.3,234.0 584.5,230.0 C585.7,226.0 587.4,220.3 588.8,217.0 C590.2,213.7 591.5,212.1 593.0,210.0 C594.5,207.9 596.1,206.1 597.5,204.7 C598.9,203.3 600.1,202.5 601.5,201.8 C602.9,201.1 604.4,200.7 606.0,200.6 C607.6,200.5 609.6,200.8 611.0,201.2 C612.4,201.6 613.7,202.2 614.5,203.2 C615.3,204.2 615.7,205.4 615.8,207.0 Z" fill="none" stroke="#6d71ae" stroke-width="11" filter="url(#blur2)" opacity="0.8"/>
  <path d="M606,203 C596,215 588,240 586,265 C585,280 588,292 594,302" fill="none" stroke="#5c61a2" stroke-width="14" filter="url(#blur3)" opacity="0.55"/>
  <path d="M609,212 C603,228 598,248 596,268" fill="none" stroke="#9a9ed2" stroke-width="4" filter="url(#blur2)" opacity="0.7"/>
  <path d="M615.8,207.0 C615.9,208.6 615.6,210.3 615.0,213.0 C614.4,215.7 613.2,219.5 612.0,223.0 C610.8,226.5 609.2,230.0 608.0,234.0 C606.8,238.0 605.5,242.8 604.5,247.0 C603.5,251.2 602.6,255.2 602.0,259.0 C601.4,262.8 601.0,266.3 601.0,270.0 C601.0,273.7 601.2,277.3 602.0,281.0 C602.8,284.7 603.9,288.7 605.5,292.0 C607.1,295.3 609.2,298.2 611.5,301.0 C613.8,303.8 616.4,306.5 619.5,309.0 C622.6,311.5 626.2,314.0 630.0,316.0 C633.8,318.0 637.7,319.5 642.0,321.0 C646.3,322.5 651.0,323.8 656.0,324.8 C661.0,325.8 666.3,326.6 672.0,327.2 C677.7,327.8 683.7,328.0 690.0,328.2 C696.3,328.4 703.7,328.4 710.0,328.4 C716.3,328.4 723.2,328.4 728.0,328.2 C732.8,328.0 736.0,327.8 739.0,327.2 C742.0,326.6 744.2,325.9 746.0,324.5 C747.8,323.1 749.2,321.2 750.0,318.5 C750.8,315.8 751.0,311.6 751.0,308.0 C751.0,304.4 750.6,300.8 750.0,297.0 C749.4,293.2 748.6,289.3 747.5,285.0 C746.4,280.7 745.2,275.5 743.5,271.0 C741.8,266.5 739.7,262.3 737.5,258.0 C735.3,253.7 733.0,249.3 730.5,245.0 C728.0,240.7 725.2,235.9 722.5,232.0 C719.8,228.1 716.8,224.8 714.0,221.5 C711.2,218.2 707.9,215.0 705.5,212.5 C703.1,210.0 700.8,208.8 699.5,206.5 C698.2,204.2 697.6,200.4 698.0,198.5 C698.4,196.6 700.3,195.7 702.0,194.8 C703.7,193.9 705.8,193.6 708.0,193.3 C710.2,193.1 712.8,193.1 715.0,193.3 C717.2,193.6 718.0,192.8 721.0,194.8 C724.0,196.8 729.1,201.4 733.1,205.5 C737.1,209.6 741.6,215.2 744.9,219.2 C748.2,223.2 750.5,226.0 753.0,229.5 C755.5,233.0 757.4,235.8 760.0,240.0 C762.6,244.2 765.8,250.0 768.5,255.0 C771.2,260.0 774.0,264.8 776.0,270.0 C778.0,275.2 779.5,280.7 780.5,286.0 C781.5,291.3 782.1,297.0 782.3,302.0 C782.5,307.0 782.3,311.5 781.5,316.0 C780.7,320.5 779.2,325.0 777.5,329.0 C775.8,333.0 773.5,336.8 771.0,340.0 C768.5,343.2 766.7,345.4 762.7,348.0 C758.7,350.6 752.5,353.9 747.0,355.9 C741.5,357.9 735.8,358.9 730.0,360.0 C724.2,361.1 717.8,362.1 712.0,362.6 C706.2,363.1 700.7,363.3 695.0,362.8 C689.3,362.3 683.7,360.9 677.9,359.7 C672.1,358.5 665.4,357.0 660.0,355.5 C654.6,354.0 650.3,352.6 645.5,350.6 C640.7,348.6 635.3,346.0 631.0,343.5 C626.7,341.0 623.3,338.2 619.6,335.5 C615.9,332.8 612.2,329.9 609.0,327.0 C605.8,324.1 603.0,321.3 600.2,318.2 C597.5,315.1 594.6,311.7 592.5,308.5 C590.4,305.3 589.0,302.2 587.3,298.8 C585.6,295.4 583.8,291.6 582.5,288.0 C581.2,284.4 580.4,281.1 579.7,277.3 C579.1,273.5 578.6,269.4 578.6,265.0 C578.6,260.6 579.0,255.0 579.5,251.0 C580.0,247.0 580.7,244.5 581.5,241.0 C582.3,237.5 583.3,234.0 584.5,230.0 C585.7,226.0 587.4,220.3 588.8,217.0 C590.2,213.7 591.5,212.1 593.0,210.0 C594.5,207.9 596.1,206.1 597.5,204.7 C598.9,203.3 600.1,202.5 601.5,201.8 C602.9,201.1 604.4,200.7 606.0,200.6 C607.6,200.5 609.6,200.8 611.0,201.2 C612.4,201.6 613.7,202.2 614.5,203.2 C615.3,204.2 615.7,205.4 615.8,207.0 Z" fill="none" stroke="#f5d0d0" stroke-width="6.5"/>
  <path d="M698.0,198.5 C698.7,197.9 700.3,195.7 702.0,194.8 C703.7,193.9 705.8,193.6 708.0,193.3 C710.2,193.1 712.8,193.1 715.0,193.3 C717.2,193.6 718.0,192.8 721.0,194.8 C724.0,196.8 729.1,201.4 733.1,205.5 C737.1,209.6 741.6,215.2 744.9,219.2 C748.2,223.2 750.5,226.0 753.0,229.5 C755.5,233.0 757.4,235.8 760.0,240.0 C762.6,244.2 765.8,250.0 768.5,255.0 C771.2,260.0 774.0,264.8 776.0,270.0 C778.0,275.2 779.5,280.7 780.5,286.0 C781.5,291.3 782.1,297.0 782.3,302.0 C782.5,307.0 782.3,311.5 781.5,316.0 C780.7,320.5 779.2,325.0 777.5,329.0 C775.8,333.0 773.5,336.8 771.0,340.0 C768.5,343.2 766.7,345.4 762.7,348.0 C758.7,350.6 752.5,353.9 747.0,355.9 C741.5,357.9 735.8,358.9 730.0,360.0 C724.2,361.1 717.8,362.1 712.0,362.6 C706.2,363.1 700.7,363.3 695.0,362.8 C689.3,362.3 683.7,360.9 677.9,359.7 C672.1,358.5 665.4,357.0 660.0,355.5 C654.6,354.0 650.3,352.6 645.5,350.6 C640.7,348.6 635.3,346.0 631.0,343.5 C626.7,341.0 623.3,338.2 619.6,335.5 C615.9,332.8 612.2,329.9 609.0,327.0 C605.8,324.1 603.0,321.3 600.2,318.2 C597.5,315.1 594.6,311.7 592.5,308.5 C590.4,305.3 589.0,302.2 587.3,298.8 C585.6,295.4 583.8,291.6 582.5,288.0 C581.2,284.4 580.4,281.1 579.7,277.3 C579.1,273.5 578.6,269.4 578.6,265.0 C578.6,260.6 579.0,255.0 579.5,251.0 C580.0,247.0 580.7,244.5 581.5,241.0 C582.3,237.5 583.3,234.0 584.5,230.0 C585.7,226.0 587.4,220.3 588.8,217.0 C590.2,213.7 591.5,212.1 593.0,210.0 C594.5,207.9 596.1,206.1 597.5,204.7 C598.9,203.3 600.1,202.5 601.5,201.8 C602.9,201.1 604.4,200.7 606.0,200.6 C607.6,200.5 609.6,200.8 611.0,201.2 C612.4,201.6 613.9,202.9 614.5,203.2" fill="none" stroke="#d4838a" stroke-width="2.2"/>
</g>
<ellipse cx="605" cy="208" rx="4" ry="3" fill="#b8bce4" filter="url(#blur2)" opacity="0.9"/>
<ellipse cx="709" cy="201" rx="4" ry="3" fill="#b8bce4" filter="url(#blur2)" opacity="0.7"/>

<!-- Right labels -->
<text x="663.5" y="70.7">Parietal layer</text>
<text x="663.5" y="105.5">of serous</text>
<text x="663.5" y="141.2">pericardium</text>
<line x1="744.9" y1="154" x2="744.9" y2="220" stroke="#111" stroke-width="1.7"/>
<line x1="631.8" y1="332.1" x2="609.8" y2="371.8" stroke="#111" stroke-width="2.2"/>
<line x1="710" y1="330.3" x2="710" y2="386.3" stroke="#111" stroke-width="2.2"/>
<text x="656.5" y="421.8">Visceral layer</text>
<text x="656.5" y="456.8">of serous</text>
<text x="656.5" y="491.8">pericardium</text>
</svg>
</body></html>
